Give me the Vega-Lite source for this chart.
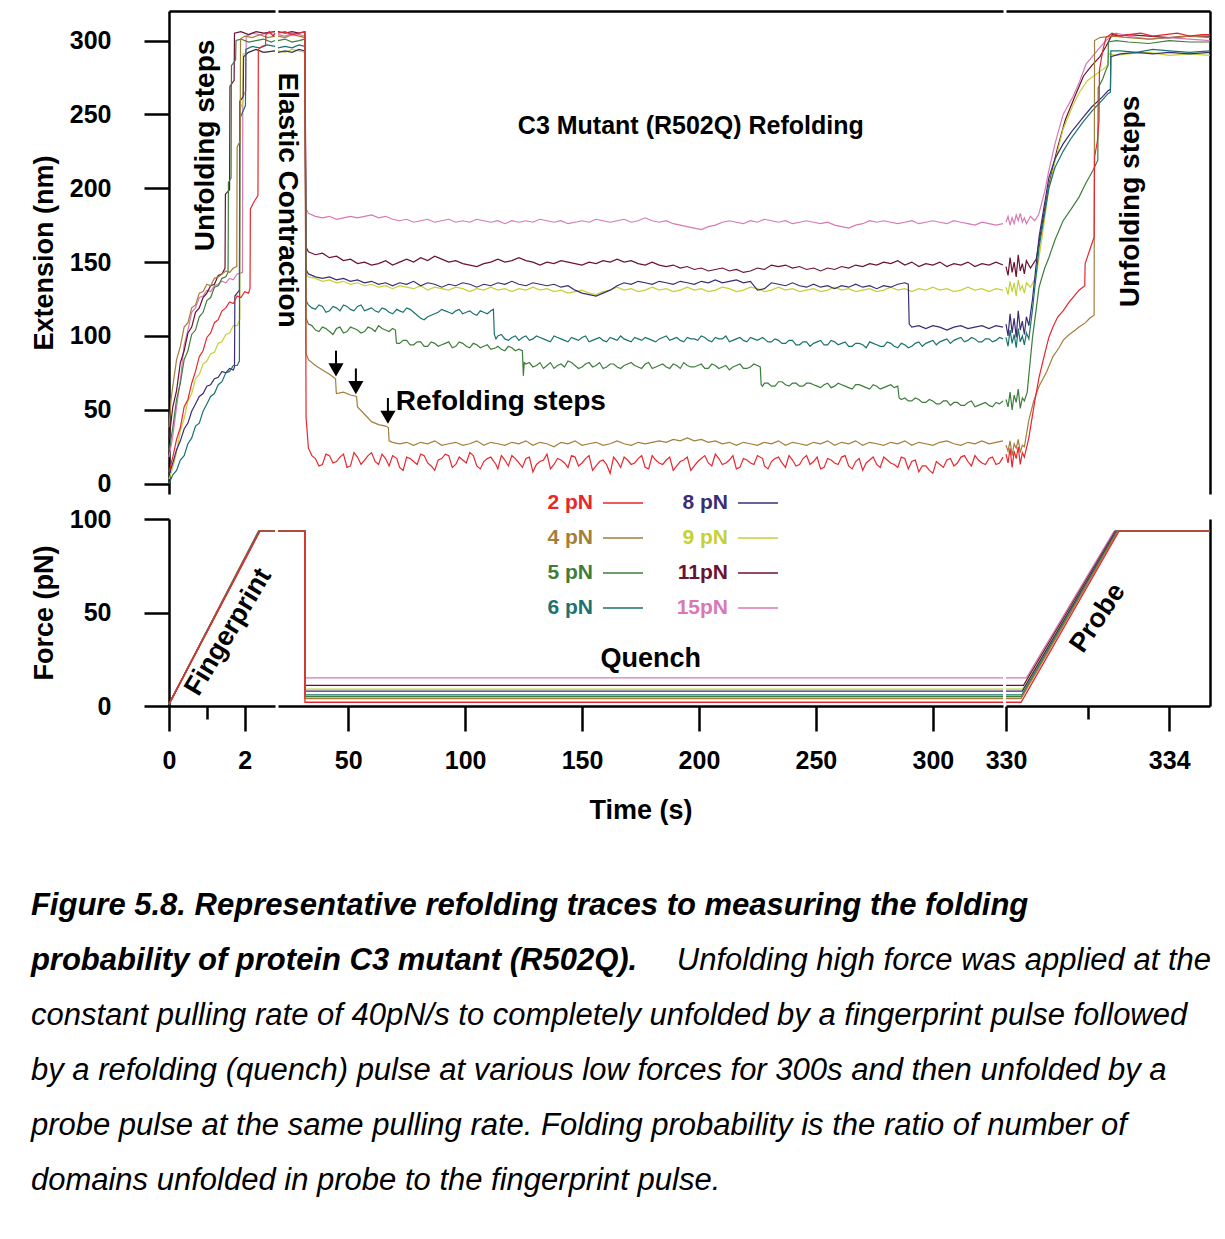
{
"$schema":"https://vega.github.io/schema/vega-lite/v6.json",
"background":"white",
"padding":{"left":30,"top":11,"right":5,"bottom":5},
"config":{"view":{"stroke":null},"font":"Liberation Sans",
"axis":{"domainColor":"#000","domainWidth":2.5,"tickColor":"#000","tickWidth":2.5,"tickSize":25,"labelFont":"Liberation Sans","labelFontWeight":"bold","labelFontSize":25,"labelColor":"#000","titleFont":"Liberation Sans","titleFontWeight":"bold","titleFontSize":27,"titleColor":"#000","grid":false,"labelOverlap":false,"labelFlush":false}},
"datasets":{
"p1":[
{"k":"h","t":[0,0.1,0.2,0.3,0.4,0.5,0.6,0.7,0.8,0.9,1.0,1.1,1.2,1.3,1.4,1.5,1.6,1.7,1.8,1.94,1.95,2.03,2.04,2.2,2.4,2.6,2.8],"v":[18,32,52,70,94,104,116,119,126,127,131,130,134,135,137,136,139,138,142,143,262,266,303,305,304,305,304]},
{"k":"g","t":[0,0.1,0.2,0.3,0.4,0.5,0.6,0.7,0.8,0.9,1.0,1.1,1.2,1.3,1.4,1.48,1.49,1.6,1.61,1.72,1.73,1.9,2.1,2.3,2.5,2.8],"v":[30,52,63,82,90,102,106,116,119,126,129,134,135,141,142,146,196,199,269,273,305,306,304,306,305,306]},
{"k":"f","t":[0,0.1,0.2,0.3,0.4,0.5,0.6,0.7,0.8,0.9,1.0,1.1,1.2,1.3,1.4,1.5,1.6,1.7,1.8,1.87,1.88,1.95,1.96,2.1,2.3,2.5,2.8],"v":[3,11,21,36,44,56,61,71,74,81,83,88,89,95,96,101,102,107,107,111,254,258,291,292,294,292,293]},
{"k":"e","t":[0,0.1,0.2,0.3,0.4,0.5,0.6,0.7,0.8,0.9,1.0,1.1,1.2,1.3,1.4,1.5,1.6,1.7,1.73,1.74,1.8,1.86,1.87,1.96,1.97,2.1,2.3,2.5,2.8],"v":[6,14,23,29,37,41,49,54,59,61,66,67,71,72,76,75,78,77,79,127,129,131,259,262,289,292,294,292,293]},
{"k":"d","t":[0,0.1,0.2,0.3,0.4,0.5,0.6,0.7,0.8,0.9,1.0,1.1,1.2,1.3,1.4,1.5,1.6,1.7,1.8,1.86,1.87,1.95,2.02,2.03,2.2,2.4,2.6,2.8],"v":[0,6,9,16,19,27,31,39,41,49,54,59,61,67,69,75,76,80,80,83,247,252,256,294,296,295,297,296]},
{"k":"c","t":[0,0.1,0.2,0.3,0.4,0.5,0.6,0.7,0.8,0.9,1.0,1.1,1.2,1.3,1.4,1.5,1.56,1.57,1.64,1.65,1.76,1.77,1.9,2.1,2.3,2.5,2.7,2.8],"v":[22,38,57,68,84,90,101,104,113,116,124,126,133,134,139,140,143,204,207,283,287,300,301,299,300,301,299,300]},
{"k":"b","t":[0,0.05,0.1,0.2,0.3,0.4,0.5,0.6,0.7,0.8,0.9,1.0,1.1,1.2,1.3,1.4,1.5,1.6,1.7,1.79,1.8,1.88,1.89,2.0,2.2,2.4,2.6,2.8],"v":[38,56,66,84,93,106,109,119,121,129,130,135,134,139,140,142,144,143,146,147,228,232,301,303,302,304,302,303]},
{"k":"a","t":[0,0.1,0.2,0.3,0.4,0.5,0.6,0.7,0.8,0.9,1.0,1.1,1.2,1.3,1.4,1.5,1.6,1.7,1.8,1.9,2.0,2.1,2.14,2.15,2.25,2.35,2.36,2.45,2.55,2.56,2.65,2.75,2.8],"v":[8,18,30,38,52,57,68,76,86,90,99,102,109,111,117,119,123,122,127,126,130,129,132,186,191,195,294,296,297,304,306,303,305]}
],
"p2":[
{"t":20,"a":305,"b":303,"c":300,"d":295,"e":292,"f":293,"g":306,"h":304},
{"t":23,"a":306,"b":302,"c":301,"d":296,"e":293,"f":292,"g":305,"h":303},
{"t":26,"a":304,"b":304,"c":299,"d":295,"e":292,"f":294,"g":306,"h":305},
{"t":29,"a":305,"b":303,"c":300,"d":297,"e":294,"f":293,"g":305,"h":304},
{"t":31.5,"a":306,"b":302,"c":301,"d":296,"e":293,"f":292,"g":306,"h":303},
{"t":32,"a":45,"b":88,"c":112,"d":124,"e":145,"f":142,"g":160,"h":186},
{"t":33,"a":24,"b":84,"c":108,"d":121,"e":142,"f":140,"g":157,"h":183},
{"t":34.5,"a":19,"c":107,"d":119},
{"t":36,"a":17,"b":80,"c":104,"d":118,"e":140,"f":139,"g":155,"h":181},
{"t":37.5,"a":12,"c":103,"d":121},
{"t":39,"a":13,"b":77,"c":106,"d":120,"e":139,"f":137,"g":156,"h":180},
{"t":40.5,"a":20,"c":105,"d":116},
{"t":42,"a":19,"b":74,"c":103,"d":117,"e":140,"f":138,"g":153,"h":181},
{"t":43.5,"a":14,"c":101,"d":120},
{"t":44.6,"b":71},{"t":44.9,"b":62},
{"t":45,"a":15,"b":61,"c":105,"d":119,"e":138,"f":136,"g":154,"h":179},
{"t":46.5,"a":18,"c":106,"d":117},
{"t":48,"a":20,"b":62,"c":102,"d":121,"e":139,"f":137,"g":151,"h":180},
{"t":49.5,"a":11,"c":103,"d":120},
{"t":51,"a":12,"b":60,"c":106,"d":118,"e":137,"f":135,"g":152,"h":181},
{"t":52.5,"a":21,"c":105,"d":117},
{"t":53.6,"b":59},{"t":53.9,"b":53},
{"t":54,"a":18,"b":52,"c":104,"d":120,"e":138,"f":136,"g":149,"h":180},
{"t":55.5,"a":13,"c":102,"d":121},
{"t":57,"a":16,"b":47,"c":103,"d":117,"e":136,"f":134,"g":150,"h":181},
{"t":58.5,"a":19,"c":106,"d":118},
{"t":60,"a":21,"b":42,"c":105,"d":119,"e":137,"f":135,"g":148,"h":182},
{"t":61.5,"a":15,"c":103,"d":117},
{"t":63,"a":13,"b":40,"c":107,"d":116,"e":135,"f":133,"g":149,"h":180},
{"t":64.5,"a":20,"c":105,"d":119},
{"t":66,"a":17,"b":39,"c":104,"d":118,"e":136,"f":134,"g":151,"h":181},
{"t":67.2,"b":38},{"t":67.5,"a":12,"b":29,"c":103,"d":116},
{"t":69,"a":19,"b":28,"c":105,"d":115,"e":134,"f":132,"g":148,"h":179},
{"t":70.2,"c":104},{"t":70.6,"c":96},
{"t":70.8,"a":17,"c":95,"d":118},
{"t":72,"a":11,"b":27,"c":95,"d":117,"e":136,"f":134,"g":150,"h":178},
{"t":73.5,"a":9,"c":97,"d":116},
{"t":75,"a":18,"b":28,"c":97,"d":119,"e":135,"f":133,"g":152,"h":179},
{"t":76.5,"a":17,"c":94,"d":118},
{"t":78,"a":15,"b":26,"c":94,"d":116,"e":137,"f":132,"g":150,"h":177},
{"t":79.5,"a":13,"c":96,"d":114},
{"t":81,"a":20,"b":28,"c":96,"d":112,"e":134,"f":134,"g":153,"h":178},
{"t":82.5,"a":19,"c":93,"d":111},
{"t":84,"a":14,"b":27,"c":93,"d":113,"e":136,"f":131,"g":151,"h":179},
{"t":85.5,"a":12,"c":96,"d":114},
{"t":87,"a":9,"b":29,"c":95,"d":115,"e":135,"f":133,"g":154,"h":177},
{"t":88.5,"a":16,"c":93,"d":116},
{"t":90,"a":17,"b":26,"c":94,"d":118,"e":133,"f":132,"g":152,"h":178},
{"t":91.5,"a":20,"c":95,"d":117},
{"t":93,"a":19,"b":27,"c":96,"d":116,"e":135,"f":131,"g":150,"h":179},
{"t":94.5,"a":11,"c":92,"d":115},
{"t":96,"a":13,"b":28,"c":93,"d":117,"e":134,"f":133,"g":151,"h":177},
{"t":97.5,"a":18,"c":96,"d":118},
{"t":99,"a":16,"b":26,"c":95,"d":115,"e":136,"f":132,"g":149,"h":178},
{"t":100.5,"a":14,"c":93,"d":116},
{"t":102,"a":21,"b":27,"c":92,"d":117,"e":135,"f":130,"g":148,"h":177},
{"t":103.5,"a":19,"c":95,"d":115},
{"t":105,"a":12,"b":29,"c":94,"d":114,"e":133,"f":132,"g":147,"h":179},
{"t":106.5,"a":10,"c":92,"d":117},
{"t":108,"a":15,"b":26,"c":93,"d":116,"e":135,"f":131,"g":149,"h":178},
{"t":109.5,"a":17,"c":94,"d":115},
{"t":111,"a":18,"b":28,"c":91,"d":117,"e":134,"f":133,"g":150,"h":177},
{"t":112.1,"d":118},{"t":112.5,"d":101},
{"t":113.2,"a":13,"c":92,"d":98},
{"t":114,"a":10,"b":27,"c":93,"d":100,"e":136,"f":131,"g":152,"h":178},
{"t":115.5,"a":19,"c":91,"d":101},
{"t":117,"a":16,"b":26,"c":90,"d":98,"e":135,"f":132,"g":150,"h":176},
{"t":118.5,"a":12,"c":93,"d":97},
{"t":120,"a":19,"b":28,"c":92,"d":99,"e":137,"f":130,"g":151,"h":178},
{"t":121.5,"a":17,"c":90,"d":100},
{"t":123,"a":14,"b":27,"c":91,"d":97,"e":135,"f":132,"g":153,"h":177},
{"t":124.5,"a":11,"c":90,"d":99},{"t":124.9,"c":73},{"t":125.3,"c":82},
{"t":126,"a":17,"b":29,"c":81,"d":100,"e":134,"f":131,"g":151,"h":178},
{"t":127.5,"a":18,"c":82,"d":97},
{"t":129,"a":8,"b":26,"c":79,"d":98,"e":136,"f":133,"g":150,"h":177},
{"t":130.5,"a":13,"c":80,"d":100},
{"t":132,"a":15,"b":28,"c":82,"d":99,"e":135,"f":131,"g":148,"h":179},
{"t":133.5,"a":16,"c":78,"d":98},
{"t":135,"a":20,"b":27,"c":80,"d":97,"e":134,"f":132,"g":150,"h":178},
{"t":136.5,"a":10,"c":82,"d":96},
{"t":138,"a":13,"b":25,"c":78,"d":100,"e":135,"f":130,"g":149,"h":177},
{"t":139.5,"a":17,"c":80,"d":99},
{"t":141,"a":16,"b":28,"c":81,"d":98,"e":133,"f":131,"g":151,"h":178},
{"t":142.5,"a":14,"c":79,"d":97},
{"t":144,"a":11,"b":27,"c":83,"d":96,"e":134,"f":129,"g":150,"h":176},
{"t":145.5,"a":19,"c":82,"d":99},
{"t":147,"a":18,"b":29,"c":80,"d":98,"e":131,"f":130,"g":149,"h":177},
{"t":148.5,"a":12,"c":78,"d":97},
{"t":150,"a":14,"b":26,"c":79,"d":99,"e":129,"f":131,"g":148,"h":178},
{"t":151.5,"a":17,"c":81,"d":100},
{"t":153,"a":19,"b":27,"c":82,"d":96,"e":128,"f":129,"g":150,"h":177},
{"t":154.5,"a":9,"c":79,"d":97},
{"t":156,"a":12,"b":28,"c":80,"d":98,"e":127,"f":128,"g":149,"h":179},
{"t":157.5,"a":15,"c":82,"d":99},
{"t":159,"a":16,"b":26,"c":78,"d":97,"e":129,"f":130,"g":151,"h":178},
{"t":160.5,"a":13,"c":79,"d":96},
{"t":162,"a":7,"b":27,"c":81,"d":99,"e":131,"f":131,"g":150,"h":177},
{"t":163.5,"a":18,"c":81,"d":98},
{"t":165,"a":15,"b":29,"c":79,"d":97,"e":134,"f":133,"g":152,"h":178},
{"t":166.5,"a":11,"c":78,"d":100},
{"t":168,"a":18,"b":27,"c":80,"d":98,"e":136,"f":131,"g":150,"h":179},
{"t":169.5,"a":16,"c":81,"d":97},
{"t":171,"a":13,"b":26,"c":82,"d":96,"e":135,"f":132,"g":151,"h":177},
{"t":172.5,"a":14,"c":80,"d":99},
{"t":174,"a":17,"b":28,"c":79,"d":98,"e":137,"f":130,"g":149,"h":178},
{"t":175.5,"a":19,"c":78,"d":97},
{"t":177,"a":11,"b":27,"c":81,"d":99,"e":136,"f":131,"g":148,"h":180},
{"t":178.5,"a":10,"c":82,"d":98},
{"t":180,"a":19,"b":28,"c":78,"d":97,"e":135,"f":133,"g":150,"h":178},
{"t":181.5,"a":16,"c":79,"d":96},
{"t":183,"a":14,"b":29,"c":80,"d":98,"e":137,"f":131,"g":148,"h":177},
{"t":184.5,"a":13,"c":81,"d":99},
{"t":186,"a":16,"b":28,"c":79,"d":100,"e":136,"f":132,"g":147,"h":178},
{"t":187.5,"a":18,"c":78,"d":97},
{"t":189,"a":9,"b":30,"c":81,"d":98,"e":135,"f":130,"g":148,"h":176},
{"t":190.5,"a":12,"c":80,"d":99},
{"t":192,"a":15,"b":29,"c":78,"d":97,"e":137,"f":131,"g":146,"h":175},
{"t":193.5,"a":16,"c":82,"d":96},
{"t":195,"a":18,"b":31,"c":80,"d":99,"e":136,"f":133,"g":147,"h":174},
{"t":196.5,"a":9,"c":79,"d":98},
{"t":198,"a":12,"b":29,"c":79,"d":98,"e":135,"f":131,"g":145,"h":173},
{"t":199.5,"a":15,"c":80,"d":97},
{"t":201,"a":17,"b":30,"c":81,"d":100,"e":137,"f":132,"g":146,"h":172},
{"t":202.5,"a":19,"c":78,"d":99},
{"t":204,"a":14,"b":28,"c":78,"d":97,"e":136,"f":130,"g":144,"h":174},
{"t":205.5,"a":12,"c":81,"d":96},
{"t":207,"a":20,"b":29,"c":80,"d":99,"e":138,"f":131,"g":145,"h":175},
{"t":208.5,"a":17,"c":78,"d":98},
{"t":210,"a":13,"b":27,"c":79,"d":98,"e":136,"f":133,"g":146,"h":177},
{"t":211.5,"a":14,"c":80,"d":100},
{"t":213,"a":16,"b":28,"c":77,"d":96,"e":137,"f":132,"g":144,"h":178},
{"t":214.5,"a":19,"c":79,"d":97},
{"t":216,"a":10,"b":26,"c":80,"d":98,"e":138,"f":130,"g":145,"h":177},
{"t":217.5,"a":11,"c":81,"d":99},
{"t":219,"a":17,"b":28,"c":78,"d":97,"e":136,"f":131,"g":143,"h":176},
{"t":220.5,"a":16,"c":78,"d":96},
{"t":222,"a":14,"b":27,"c":79,"d":99,"e":137,"f":133,"g":144,"h":178},
{"t":223.5,"a":13,"c":81,"d":98},
{"t":225,"a":19,"b":26,"c":80,"d":97,"e":131,"f":132,"g":146,"h":177},
{"t":226.2,"c":79},{"t":226.6,"c":67},
{"t":227.2,"a":17,"c":66,"d":99},
{"t":228,"a":12,"b":28,"c":68,"d":98,"e":132,"f":130,"g":145,"h":179},
{"t":229.5,"a":10,"c":68,"d":96},
{"t":231,"a":15,"b":27,"c":66,"d":96,"e":136,"f":131,"g":148,"h":178},
{"t":232.5,"a":17,"c":66,"d":98},
{"t":234,"a":18,"b":29,"c":69,"d":97,"e":135,"f":133,"g":147,"h":177},
{"t":235.5,"a":14,"c":69,"d":95},
{"t":237,"a":11,"b":26,"c":67,"d":95,"e":134,"f":131,"g":148,"h":178},
{"t":238.5,"a":19,"c":66,"d":97},
{"t":240,"a":16,"b":28,"c":68,"d":97,"e":136,"f":132,"g":146,"h":176},
{"t":241.5,"a":12,"c":68,"d":94},
{"t":243,"a":13,"b":27,"c":66,"d":94,"e":134,"f":130,"g":147,"h":177},
{"t":244.5,"a":17,"c":66,"d":96},
{"t":246,"a":19,"b":26,"c":68,"d":96,"e":133,"f":131,"g":145,"h":178},
{"t":247.5,"a":13,"c":68,"d":93},
{"t":249,"a":15,"b":28,"c":67,"d":95,"e":135,"f":132,"g":146,"h":177},
{"t":250.5,"a":18,"c":66,"d":96},
{"t":252,"a":10,"b":27,"c":65,"d":97,"e":133,"f":130,"g":144,"h":176},
{"t":253.5,"a":11,"c":67,"d":94},
{"t":255,"a":17,"b":29,"c":68,"d":94,"e":134,"f":131,"g":146,"h":177},
{"t":256.5,"a":16,"c":65,"d":97},
{"t":258,"a":14,"b":26,"c":66,"d":96,"e":132,"f":133,"g":145,"h":175},
{"t":259.5,"a":13,"c":68,"d":94},
{"t":261,"a":18,"b":28,"c":67,"d":95,"e":134,"f":131,"g":147,"h":174},
{"t":262.5,"a":19,"c":66,"d":96},
{"t":264,"a":12,"b":27,"c":65,"d":93,"e":133,"f":132,"g":146,"h":173},
{"t":265.5,"a":10,"c":64,"d":93},
{"t":267,"a":15,"b":29,"c":67,"d":95,"e":135,"f":130,"g":148,"h":175},
{"t":268.5,"a":17,"c":67,"d":95},
{"t":270,"a":9,"b":26,"c":66,"d":94,"e":133,"f":131,"g":147,"h":176},
{"t":271.5,"a":14,"c":65,"d":92},
{"t":273,"a":16,"b":28,"c":64,"d":96,"e":134,"f":132,"g":149,"h":178},
{"t":274.5,"a":18,"c":67,"d":95},
{"t":276,"a":13,"b":27,"c":66,"d":94,"e":132,"f":130,"g":148,"h":177},
{"t":277.5,"a":11,"c":64,"d":93},
{"t":279,"a":18,"b":26,"c":65,"d":93,"e":134,"f":131,"g":150,"h":178},
{"t":280.5,"a":16,"c":66,"d":96},
{"t":282,"a":14,"b":28,"c":67,"d":95,"e":133,"f":133,"g":149,"h":177},
{"t":283.5,"a":13,"c":65,"d":93},
{"t":285,"a":11,"b":27,"c":66,"d":92,"e":135,"f":131,"g":151,"h":176},
{"t":285.6,"c":58},
{"t":286.5,"a":18,"c":57,"d":95},
{"t":288,"a":17,"b":29,"c":58,"d":94,"e":136,"f":132,"g":148,"h":177},
{"t":289.5,"a":10,"c":56,"d":92,"e":135},{"t":289.9,"e":108},
{"t":291,"a":15,"b":26,"c":56,"d":93,"e":106,"f":130,"g":150,"h":178},
{"t":292.5,"a":16,"c":58,"d":95},
{"t":294,"a":8,"b":28,"c":57,"d":96,"e":107,"f":132,"g":147,"h":176},
{"t":295.5,"a":12,"c":55,"d":93},
{"t":297,"a":12,"b":27,"c":55,"d":95,"e":105,"f":131,"g":149,"h":177},
{"t":298.5,"a":9,"c":57,"d":96},
{"t":300,"a":7,"b":26,"c":56,"d":97,"e":107,"f":133,"g":148,"h":178},
{"t":301.5,"a":15,"c":54,"d":94},
{"t":303,"a":13,"b":28,"c":54,"d":96,"e":106,"f":131,"g":150,"h":177},
{"t":304.5,"a":11,"c":56,"d":97},
{"t":306,"a":16,"b":29,"c":56,"d":98,"e":104,"f":132,"g":147,"h":176},
{"t":307.5,"a":17,"c":53,"d":95},
{"t":309,"a":12,"b":27,"c":55,"d":97,"e":106,"f":130,"g":149,"h":178},
{"t":310.5,"a":14,"c":55,"d":98},
{"t":312,"a":18,"b":26,"c":53,"d":99,"e":107,"f":131,"g":148,"h":177},
{"t":313.5,"a":19,"c":53,"d":96},
{"t":315,"a":15,"b":28,"c":55,"d":97,"e":105,"f":133,"g":150,"h":176},
{"t":316.5,"a":12,"c":56,"d":99},
{"t":318,"a":19,"b":27,"c":52,"d":98,"e":106,"f":131,"g":147,"h":175},
{"t":319.5,"a":16,"c":53,"d":96},
{"t":321,"a":14,"b":29,"c":54,"d":96,"e":107,"f":132,"g":149,"h":177},
{"t":322.5,"a":13,"c":55,"d":98},
{"t":324,"a":17,"b":27,"c":53,"d":98,"e":105,"f":130,"g":148,"h":176},
{"t":325.5,"a":18,"c":52,"d":96},
{"t":327,"a":13,"b":28,"c":55,"d":97,"e":107,"f":132,"g":150,"h":175},
{"t":328.5,"a":14,"c":54,"d":99},
{"t":330,"a":18,"b":29,"c":56,"d":98,"e":106,"f":131,"g":148,"h":176}
],
"p3":[
{"k":"h","t":[330,330.05,330.1,330.15,330.2,330.25,330.3,330.35,330.4,330.45,330.5,330.6,330.7,330.8,330.95,331.05,331.2,331.4,331.64,331.8,331.96,332.2,332.45,332.7,333,333.5,334,334.5,335],"v":[177,181,175,180,176,182,178,183,177,180,176,181,178,182,198,212,230,250,262,272,284,292,300,305,303,301,302,301,300]},
{"k":"g","t":[330,330.05,330.1,330.15,330.2,330.25,330.3,330.35,330.4,330.45,330.5,330.6,330.74,330.9,331.05,331.25,331.45,331.7,331.9,332.1,332.3,332.45,332.6,332.8,333,333.5,334,334.5,335],"v":[147,141,153,143,150,140,155,144,149,142,151,146,152,178,202,226,246,263,276,283,289,296,304,303,304,303,302,303,303]},
{"k":"f","t":[330,330.05,330.1,330.15,330.2,330.25,330.3,330.35,330.4,330.45,330.5,330.6,330.74,330.9,331.05,331.2,331.4,331.64,331.8,332,332.2,332.45,332.5,332.51,332.7,333,333.5,334,334.5,335],"v":[133,128,137,130,136,127,138,131,134,129,136,133,140,170,200,218,240,256,265,273,277,282,284,291,290,291,292,290,291,290]},
{"k":"e","t":[330,330.05,330.1,330.15,330.2,330.25,330.3,330.35,330.4,330.45,330.5,330.56,330.65,330.81,331.05,331.2,331.4,331.6,331.89,332.1,332.37,332.5,332.56,332.57,332.8,333.2,333.6,334,334.5,335],"v":[108,100,115,102,112,99,117,104,110,101,113,107,125,167,207,220,230,238,248,255,262,266,267,289,291,292,291,292,291,292]},
{"k":"d","t":[330,330.05,330.1,330.15,330.2,330.25,330.3,330.35,330.4,330.45,330.5,330.56,330.65,330.81,331.05,331.2,331.4,331.6,331.89,332.1,332.37,332.5,332.56,332.57,332.8,333.2,333.6,334,334.5,335],"v":[99,93,104,95,101,92,105,96,100,94,102,98,118,160,200,214,225,234,245,252,260,264,265,293,293,292,294,293,292,293]},
{"k":"c","t":[330,330.05,330.1,330.15,330.2,330.25,330.3,330.35,330.4,330.45,330.52,330.65,330.81,330.95,331.05,331.2,331.4,331.6,331.79,331.95,332.13,332.25,332.26,332.37,332.45,332.5,332.51,332.7,333,333.5,334,334.5,335],"v":[57,52,62,50,60,55,64,51,58,56,62,99,133,146,153,165,178,186,194,203,212,219,268,274,280,283,299,300,299,298,300,299,299]},
{"k":"b","t":[330,330.05,330.1,330.15,330.2,330.25,330.3,330.35,330.4,330.45,330.56,330.68,330.81,331,331.15,331.3,331.4,331.55,331.7,331.79,331.95,332.05,332.16,332.17,332.3,332.6,333,333.5,334,334.5,335],"v":[26,22,29,19,27,24,30,21,26,25,43,56,66,76,86,92,97,101,104,106,109,112,114,300,302,303,302,301,302,303,302]},
{"k":"a","t":[330,330.05,330.1,330.15,330.2,330.25,330.3,330.35,330.4,330.45,330.56,330.7,330.81,330.95,331.05,331.15,331.27,331.4,331.55,331.7,331.79,331.93,331.94,332.05,332.16,332.17,332.24,332.28,332.29,332.37,332.45,332.6,332.8,333,333.3,333.6,333.9,334.2,334.5,334.8,335],"v":[20,14,24,11,22,17,25,13,21,18,31,55,72,88,99,106,113,117,123,128,131,134,149,158,167,221,232,246,280,293,302,305,303,304,305,303,304,305,303,304,304]}
],
"f1":[
{"k":"h","t":[0,2.36,2.8],"v":[1,93.5,93.5]},
{"k":"g","t":[0,2.37,2.8],"v":[1,93.5,93.5]},
{"k":"f","t":[0,2.37,2.8],"v":[1,93.5,93.5]},
{"k":"e","t":[0,2.38,2.8],"v":[1,93.5,93.5]},
{"k":"d","t":[0,2.38,2.8],"v":[1,93.5,93.5]},
{"k":"c","t":[0,2.39,2.8],"v":[1,93.5,93.5]},
{"k":"b","t":[0,2.4,2.8],"v":[1,93.5,93.5]},
{"k":"a","t":[0,2.4,2.8],"v":[1,93.5,93.5]}
],
"f2":[
{"k":"h","t":[20,31.5,31.52,330],"v":[93.5,93.5,15,15]},
{"k":"g","t":[20,31.5,31.52,330],"v":[93.5,93.5,11,11]},
{"k":"f","t":[20,31.5,31.52,330],"v":[93.5,93.5,9,9]},
{"k":"e","t":[20,31.5,31.52,330],"v":[93.5,93.5,8,8]},
{"k":"d","t":[20,31.5,31.52,330],"v":[93.5,93.5,6,6]},
{"k":"c","t":[20,31.5,31.52,330],"v":[93.5,93.5,5,5]},
{"k":"b","t":[20,31.5,31.52,330],"v":[93.5,93.5,4,4]},
{"k":"a","t":[20,31.5,31.52,330],"v":[93.5,93.5,2,2]}
],
"f3":[
{"k":"h","t":[330,330.5,332.65,335],"v":[15,15,93.5,93.5]},
{"k":"g","t":[330,330.43,332.68,335],"v":[11,11,93.5,93.5]},
{"k":"f","t":[330,330.41,332.7,335],"v":[9,9,93.5,93.5]},
{"k":"e","t":[330,330.4,332.7,335],"v":[8,8,93.5,93.5]},
{"k":"d","t":[330,330.39,332.72,335],"v":[6,6,93.5,93.5]},
{"k":"c","t":[330,330.38,332.73,335],"v":[5,5,93.5,93.5]},
{"k":"b","t":[330,330.37,332.74,335],"v":[4,4,93.5,93.5]},
{"k":"a","t":[330,330.37,332.77,335],"v":[2,2,93.5,93.5]}
]
},
"spacing":55,
"vconcat":[
{"columns":3,"spacing":{"row":25,"column":3},"bounds":"flush","align":"each",
"concat":[
{"width":106,"height":483,"layer":[
 {"data":{"name":"p1"},"transform":[{"flatten":["t","v"]}],"mark":{"type":"line","strokeWidth":1.2},
  "encoding":{
   "x":{"field":"t","type":"quantitative","scale":{"domain":[0,2.8],"nice":false,"zero":false},"axis":{"orient":"top","ticks":false,"labels":false,"title":null}},
   "y":{"field":"v","type":"quantitative","scale":{"domain":[-7,320],"nice":false,"zero":false},"axis":{"values":[0,50,100,150,200,250,300],"title":"Extension (nm)","labelPadding":33,"titlePadding":11}},
   "color":{"field":"k","type":"nominal","scale":{"domain":["a","b","c","d","e","f","g","h"],"range":["#e8262d","#a47e3c","#3f7d3d","#1a7370","#3b2d73","#c5d136","#6b1232","#d878b5"]},
     "legend":{"title":null,"orient":"none","legendX":376,"legendY":471,"padding":0,"columns":2,"symbolType":"stroke","symbolSize":1600,"symbolStrokeWidth":1.6,"labelFont":"Liberation Sans","labelFontSize":21,"labelFontWeight":"bold","rowPadding":4,"columnPadding":29,
       "labelExpr":"['2 pN','4 pN','5 pN','6 pN','8 pN','9 pN','11pN','15pN'][indexof('abcdefgh', datum.value)]",
       "encode":{"labels":{"update":{"x":{"value":48},"align":{"value":"right"},"fill":{"signal":"scale('color', datum.value)"}}},
                 "symbols":{"update":{"x":{"value":78},"shape":{"value":"stroke"},"size":{"value":1600},"stroke":{"signal":"scale('color', datum.value)"},"strokeWidth":{"value":1.6},"opacity":{"value":1}}}}}}
  }},
 {"data":{"values":[{}]},"mark":{"type":"text","text":"Unfolding steps","angle":270,"fontSize":28,"fontWeight":"bold","color":"#000"},
  "encoding":{"x":{"datum":0.98,"type":"quantitative"},"y":{"datum":229,"type":"quantitative"}}}
]},
{"width":725,"height":483,"layer":[
 {"data":{"name":"p2"},"transform":[{"fold":["h","g","f","e","d","c","b","a"],"as":["k","v"]},{"filter":{"field":"v","valid":true}}],"mark":{"type":"line","strokeWidth":1.2},
  "encoding":{
   "x":{"field":"t","type":"quantitative","scale":{"domain":[20,330],"nice":false,"zero":false},"axis":{"orient":"top","ticks":false,"labels":false,"title":null}},
   "y":{"field":"v","type":"quantitative","scale":{"domain":[-7,320],"nice":false,"zero":false},"axis":null},
   "color":{"field":"k","type":"nominal","scale":{"domain":["a","b","c","d","e","f","g","h"],"range":["#e8262d","#a47e3c","#3f7d3d","#1a7370","#3b2d73","#c5d136","#6b1232","#d878b5"]}}
  }},
 {"data":{"values":[{}]},"mark":{"type":"text","text":"Elastic Contraction","angle":90,"fontSize":28,"fontWeight":"bold","color":"#000"},
  "encoding":{"x":{"datum":23.85,"type":"quantitative"},"y":{"datum":192,"type":"quantitative","axis":null}}},
 {"data":{"values":[{}]},"mark":{"type":"text","text":"C3 Mutant (R502Q) Refolding","fontSize":25,"fontWeight":"bold","color":"#000"},
  "encoding":{"x":{"datum":196.5,"type":"quantitative"},"y":{"datum":242,"type":"quantitative","axis":null}}},
 {"data":{"values":[{}]},"mark":{"type":"text","text":"Refolding steps","align":"left","fontSize":28,"fontWeight":"bold","color":"#000"},
  "encoding":{"x":{"datum":70.4,"type":"quantitative"},"y":{"datum":55.5,"type":"quantitative","axis":null}}},
 {"data":{"values":[{"t":44.8,"y1":90,"y2":77},{"t":53.3,"y1":78,"y2":65},{"t":67,"y1":58,"y2":45}]},"mark":{"type":"rule","strokeWidth":2,"color":"#000"},
  "encoding":{"x":{"field":"t","type":"quantitative"},"y":{"field":"y1","type":"quantitative","axis":null},"y2":{"field":"y2"}}},
 {"data":{"values":[{"t":44.8,"y1":90,"y2":77},{"t":53.3,"y1":78,"y2":65},{"t":67,"y1":58,"y2":45}]},"mark":{"type":"point","shape":"triangle-down","filled":true,"size":230,"color":"#000","opacity":1},
  "encoding":{"x":{"field":"t","type":"quantitative"},"y":{"field":"y2","type":"quantitative","axis":null}}}
]},
{"width":204,"height":483,"layer":[
 {"data":{"name":"p3"},"transform":[{"flatten":["t","v"]}],"mark":{"type":"line","strokeWidth":1.2},
  "encoding":{
   "x":{"field":"t","type":"quantitative","scale":{"domain":[330,335],"nice":false,"zero":false},"axis":{"orient":"top","ticks":false,"labels":false,"title":null}},
   "y":{"field":"v","type":"quantitative","scale":{"domain":[-7,320],"nice":false,"zero":false},"axis":{"orient":"right","ticks":false,"labels":false,"title":null}},
   "color":{"field":"k","type":"nominal","scale":{"domain":["a","b","c","d","e","f","g","h"],"range":["#e8262d","#a47e3c","#3f7d3d","#1a7370","#3b2d73","#c5d136","#6b1232","#d878b5"]}}
  }},
 {"data":{"values":[{}]},"mark":{"type":"text","text":"Unfolding steps","angle":270,"fontSize":28,"fontWeight":"bold","color":"#000"},
  "encoding":{"x":{"datum":333.06,"type":"quantitative"},"y":{"datum":191,"type":"quantitative"}}}
]},
{"width":106,"height":187,"layer":[
 {"data":{"name":"f1"},"transform":[{"flatten":["t","v"]}],"mark":{"type":"line","strokeWidth":1.3},
  "encoding":{
   "x":{"field":"t","type":"quantitative","scale":{"domain":[0,2.8],"nice":false,"zero":false},"axis":{"values":[0,1,2],"labelExpr":"datum.value == 1 ? '' : datum.label","tickSize":{"condition":{"test":"datum.value == 1","value":13},"value":25},"labelPadding":17,"title":null}},
   "y":{"field":"v","type":"quantitative","scale":{"domain":[0,100],"nice":false},"axis":{"values":[0,50,100],"title":"Force (pN)","labelPadding":33,"titlePadding":11}},
   "color":{"field":"k","type":"nominal","scale":{"domain":["a","b","c","d","e","f","g","h"],"range":["#e8262d","#a47e3c","#3f7d3d","#1a7370","#3b2d73","#c5d136","#6b1232","#d878b5"]}}
  }},
 {"data":{"values":[{}]},"mark":{"type":"text","text":"Fingerprint","angle":-59,"fontSize":27,"fontWeight":"bold","color":"#000"},
  "encoding":{"x":{"datum":1.57,"type":"quantitative"},"y":{"datum":39.6,"type":"quantitative"}}}
]},
{"width":725,"height":187,"layer":[
 {"data":{"name":"f2"},"transform":[{"flatten":["t","v"]}],"mark":{"type":"line","strokeWidth":1.3},
  "encoding":{
   "x":{"field":"t","type":"quantitative","scale":{"domain":[20,330],"nice":false,"zero":false},"axis":{"values":[50,100,150,200,250,300],"labelPadding":17,"title":"Time (s)","titlePadding":24}},
   "y":{"field":"v","type":"quantitative","scale":{"domain":[0,100],"nice":false},"axis":null},
   "color":{"field":"k","type":"nominal","scale":{"domain":["a","b","c","d","e","f","g","h"],"range":["#e8262d","#a47e3c","#3f7d3d","#1a7370","#3b2d73","#c5d136","#6b1232","#d878b5"]}}
  }},
 {"data":{"values":[{}]},"mark":{"type":"text","text":"Quench","fontSize":27,"fontWeight":"bold","color":"#000"},
  "encoding":{"x":{"datum":179.4,"type":"quantitative"},"y":{"datum":25,"type":"quantitative","axis":null}}}
]},
{"width":204,"height":187,"layer":[
 {"data":{"name":"f3"},"transform":[{"flatten":["t","v"]}],"mark":{"type":"line","strokeWidth":1.3},
  "encoding":{
   "x":{"field":"t","type":"quantitative","scale":{"domain":[330,335],"nice":false,"zero":false},"axis":{"values":[330,332,334],"labelExpr":"datum.value == 332 ? '' : datum.label","tickSize":{"condition":{"test":"datum.value == 332","value":13},"value":25},"labelPadding":17,"title":null}},
   "y":{"field":"v","type":"quantitative","scale":{"domain":[0,100],"nice":false},"axis":{"orient":"right","ticks":false,"labels":false,"title":null}},
   "color":{"field":"k","type":"nominal","scale":{"domain":["a","b","c","d","e","f","g","h"],"range":["#e8262d","#a47e3c","#3f7d3d","#1a7370","#3b2d73","#c5d136","#6b1232","#d878b5"]}}
  }},
 {"data":{"values":[{}]},"mark":{"type":"text","text":"Probe","angle":-56,"fontSize":27,"fontWeight":"bold","color":"#000"},
  "encoding":{"x":{"datum":332.25,"type":"quantitative"},"y":{"datum":47,"type":"quantitative"}}}
]}
]},
{"width":1042,"height":331,
 "data":{"values":[
  {"l":1,"p":"h","s":"Figure 5.8. Representative refolding traces to measuring the folding"},
  {"l":2,"p":"h","s":"probability of protein C3 mutant (R502Q)."},
  {"l":2,"p":"t","s":"Unfolding high force was applied at the"},
  {"l":3,"p":"b","s":"constant pulling rate of 40pN/s to completely unfolded by a fingerprint pulse followed"},
  {"l":4,"p":"b","s":"by a refolding (quench) pulse at various low forces for 300s and then unfolded by a"},
  {"l":5,"p":"b","s":"probe pulse at the same pulling rate. Folding probability is the ratio of number of"},
  {"l":6,"p":"b","s":"domains unfolded in probe to the fingerprint pulse."}
 ]},
 "layer":[
  {"transform":[{"filter":"datum.p == 'h'"}],"mark":{"type":"text","align":"left","baseline":"middle","fontSize":31,"fontStyle":"italic","fontWeight":"bold","color":"#000"},
   "encoding":{"x":{"datum":0,"type":"quantitative","scale":{"domain":[0.117,1],"nice":false,"zero":false},"axis":null},"y":{"field":"l","type":"quantitative","scale":{"domain":[0.5,6.5],"reverse":true},"axis":null},"text":{"field":"s"}}},
  {"transform":[{"filter":"datum.p == 't'"}],"mark":{"type":"text","align":"right","baseline":"middle","fontSize":31,"fontStyle":"italic","color":"#000"},
   "encoding":{"x":{"datum":1,"type":"quantitative","axis":null},"y":{"field":"l","type":"quantitative","axis":null},"text":{"field":"s"}}},
  {"transform":[{"filter":"datum.p == 'b'"}],"mark":{"type":"text","align":"left","baseline":"middle","fontSize":31,"fontStyle":"italic","color":"#000"},
   "encoding":{"x":{"datum":0,"type":"quantitative","axis":null},"y":{"field":"l","type":"quantitative","axis":null},"text":{"field":"s"}}}
 ]}
]
}
